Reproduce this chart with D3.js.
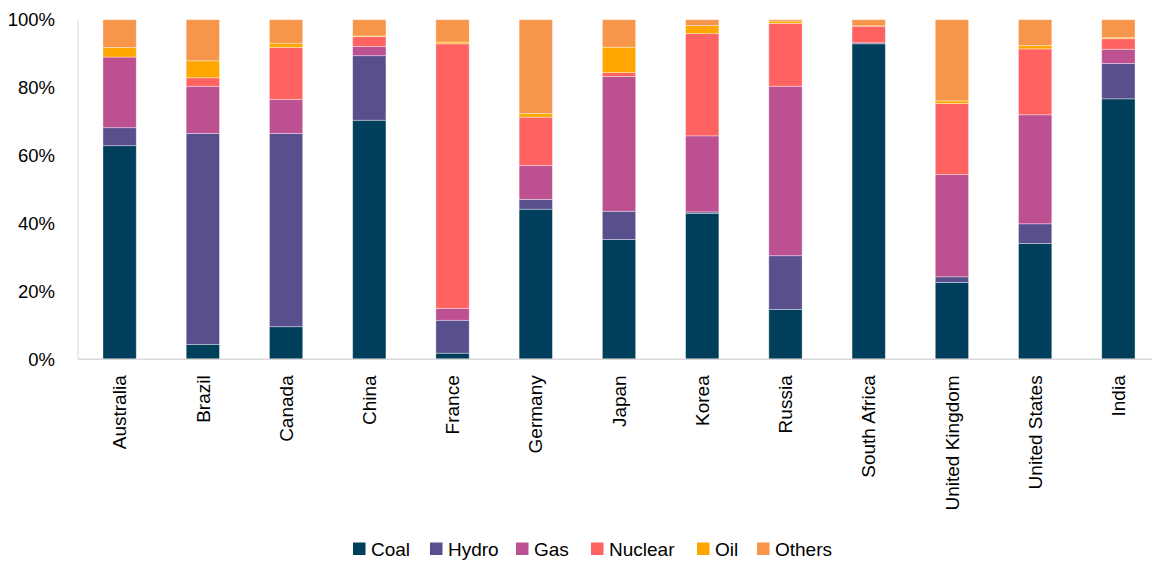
<!DOCTYPE html>
<html>
<head>
<meta charset="utf-8">
<script src="https://cdn.jsdelivr.net/npm/d3@7"></script>
<style>
  body { margin: 0; background: #fff; }
  svg { font-family: "Liberation Sans", Arial, sans-serif; }
</style>
</head>
<body>
<svg id="chart" width="1152" height="561"></svg>
<script>
// country categories, left to right
const countries = ["Australia", "Brazil", "Canada", "China", "France", "Germany", "Japan",
  "Korea", "Russia", "South Africa", "United Kingdom", "United States", "India"]

// share of generation by source (%)
const coal    = [62.9,  4.4,  9.6, 70.4,  1.8, 44.2, 35.3, 43.0, 14.7, 92.9, 22.6, 34.1, 76.7]
const hydro   = [ 5.3, 62.1, 56.9, 19.0,  9.7,  2.9,  8.3,  0.4, 15.8,  0.3,  1.7,  5.8, 10.4]
const gas     = [20.8, 13.9, 10.0,  2.7,  3.5, 10.0, 39.7, 22.4, 49.9,  0.0, 30.1, 32.1,  4.2]
const nuclear = [ 0.0,  2.5, 15.3,  2.9, 77.9, 14.2,  1.1, 30.1, 18.5,  4.9, 20.9, 19.4,  3.1]
const oil     = [ 2.8,  5.0,  1.3,  0.2,  0.5,  1.1,  7.5,  2.4,  0.7,  0.1,  0.8,  1.0,  0.3]
const others  = [ 8.2, 12.1,  6.9,  4.8,  6.6, 27.6,  8.1,  1.7,  0.4,  1.8, 23.9,  7.6,  5.3]

const sources = ["Coal", "Hydro", "Gas", "Nuclear", "Oil", "Others"]
const colors  = ["#003f5c", "#58508d", "#bc5090", "#ff6361", "#ffa600", "#f7964a"]
const yTicks  = [0, 20, 40, 60, 80, 100]

const series = [coal, hydro, gas, nuclear, oil, others]
const rows = countries.map((c, i) => {
  let r = { country: c }
  sources.forEach((s, j) => r[s] = series[j][i])
  return r
})

const svg = d3.select('#chart')
const m = { left: 78, right: 1160, top: 19.7, bottom: 359.3 }

const x = d3.scaleBand().domain(countries).range([m.left, m.right]).paddingInner(0.6).paddingOuter(0.3)
const y = d3.scaleLinear().domain([0, 100]).range([m.bottom, m.top])
const color = d3.scaleOrdinal().domain(sources).range(colors)

const stacked = d3.stack().keys(sources)(rows)

svg.append('g')
  .selectAll('g')
  .data(stacked)
  .join('g')
  .attr('fill', d => color(d.key))
  .selectAll('rect')
  .data(d => d)
  .join('rect')
  .attr('x', d => x(d.data.country))
  .attr('width', x.bandwidth())
  .attr('y', d => y(d[1]))
  .attr('height', d => Math.max(0, y(d[0]) - y(d[1])))
  .attr('stroke', 'rgba(255,255,255,0.45)')
  .attr('stroke-width', 0.8)

// axes lines
svg.append('line')
  .attr('x1', m.left).attr('x2', 1152)
  .attr('y1', m.bottom).attr('y2', m.bottom)
  .attr('stroke', '#d9d9d9').attr('stroke-width', 1.5)
svg.append('line')
  .attr('x1', m.left).attr('x2', m.left)
  .attr('y1', m.top).attr('y2', m.bottom)
  .attr('stroke', '#d9d9d9').attr('stroke-width', 1)

// y tick labels
const yAxis = svg.append('g')
  .attr('transform', `translate(${m.left},0)`)
  .call(d3.axisLeft(y).tickValues(yTicks).tickFormat(d => d + '%').tickSize(0).tickPadding(23))
yAxis.select('.domain').remove()
yAxis.selectAll('text').attr('font-size', 18.5).attr('fill', '#000')
  .attr('font-family', '"Liberation Sans", Arial, sans-serif')

// x labels, rotated
const xAxis = svg.append('g')
  .attr('transform', `translate(0,${m.bottom})`)
  .call(d3.axisBottom(x).tickSize(0).tickPadding(0))
xAxis.select('.domain').remove()
xAxis.selectAll('text')
  .attr('font-size', 19).attr('fill', '#000')
  .attr('font-family', '"Liberation Sans", Arial, sans-serif')
  .attr('transform', 'translate(0,16) rotate(-90)')
  .attr('text-anchor', 'end')
  .attr('dy', '0.35em')
  .attr('x', 0).attr('y', 0)

// legend
const legendX = [353, 430, 516, 591, 697, 757]
const legend = svg.append('g')
  .selectAll('g')
  .data(sources)
  .join('g')
  .attr('transform', (d, i) => `translate(${legendX[i]},542.5)`)
legend.append('rect')
  .attr('width', 12.5).attr('height', 12.5)
  .attr('fill', d => color(d))
legend.append('text')
  .attr('x', 18).attr('y', 6.5).attr('dy', '0.35em')
  .attr('font-size', 19)
  .text(d => d)
</script>
</body>
</html>
